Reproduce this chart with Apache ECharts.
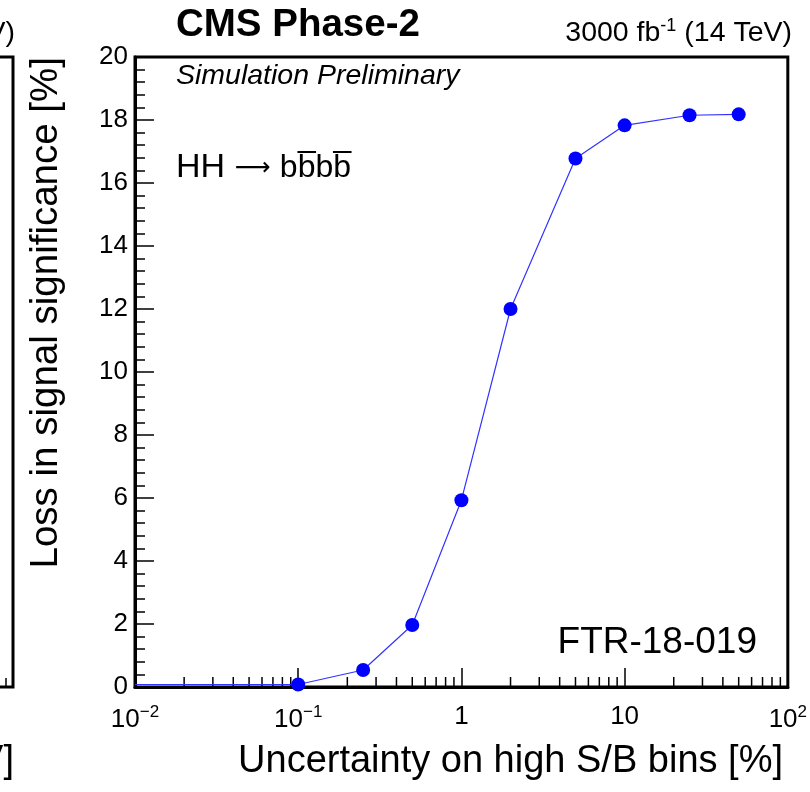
<!DOCTYPE html>
<html>
<head>
<meta charset="utf-8">
<script src="https://cdn.jsdelivr.net/npm/echarts@6/dist/echarts.min.js"></script>
<style>html,body{margin:0;padding:0;background:#fff}#c{width:810px;height:792px}</style>
</head>
<body>
<div id="c"></div>
<script>
const uncertainty = [0.01, 0.1, 0.25, 0.5, 1, 2, 5, 10, 25, 50];
const loss = [0.08, 0.08, 0.54, 1.97, 5.93, 12.0, 16.78, 17.83, 18.15, 18.18];
const xTickValues = [0.01, 0.1, 1, 10, 100];
const xTickLabels = ['10{s|\u22122}', '10{s|\u22121}', '1', '10', '10{s|2}'];
const xMinorTicks = [0.02,0.03,0.04,0.05,0.06,0.07,0.08,0.09,0.2,0.3,0.4,0.5,0.6,0.7,0.8,0.9,2,3,4,5,6,7,8,9,20,30,40,50,60,70,80,90];
const yMin = 0, yMax = 20, yInterval = 2;

const FONT = '"Liberation Sans", Arial, Helvetica, sans-serif';
const chart = echarts.init(document.getElementById('c'), null, {renderer: 'canvas'});

const lineData = uncertainty.map((x, i) => i === 0 ? {value: [x, loss[i]], symbol: 'none'} : [x, loss[i]]);

chart.setOption({
  animation: false,
  backgroundColor: '#fff',
  grid: {left: 135, right: 17, top: 57, bottom: 105, show: true, borderColor: '#000', borderWidth: 3, backgroundColor: 'transparent'},
  xAxis: {
    type: 'log', logBase: 10, min: 0.01, max: 100, splitNumber: 4,
    axisLine: {show: true, lineStyle: {color: '#000', width: 3}},
    axisTick: {show: true, inside: true, length: 19, lineStyle: {color: '#000', width: 1.5}},
    minorTick: {show: false},
    splitLine: {show: false},
    axisLabel: {
      margin: 17, color: '#000', fontFamily: FONT, fontSize: 26,
      formatter: function (v) {
        const i = xTickValues.findIndex(t => Math.abs(Math.log10(t) - Math.log10(v)) < 1e-6);
        return i >= 0 ? xTickLabels[i] : '';
      },
      rich: {s: {fontSize: 17, fontFamily: FONT, color: '#000', verticalAlign: 'top', padding: [0, 0, 14, 0]}}
    }
  },
  yAxis: {
    type: 'value', min: yMin, max: yMax, interval: yInterval,
    axisLine: {show: true, lineStyle: {color: '#000', width: 3}},
    axisTick: {show: true, inside: true, length: 19, lineStyle: {color: '#000', width: 1.5}},
    minorTick: {show: true, splitNumber: 5, length: 10, lineStyle: {color: '#000', width: 1.5}},
    splitLine: {show: false},
    axisLabel: {margin: 7, color: '#000', fontFamily: FONT, fontSize: 26}
  },
  series: [
    {
      type: 'custom', silent: true, clip: false, z: 3,
      data: xMinorTicks.map(v => [v, yMin]),
      renderItem: function (params, api) {
        const p = api.coord([api.value(0), api.value(1)]);
        return {type: 'line', shape: {x1: p[0], y1: p[1], x2: p[0], y2: p[1] - 10}, style: {stroke: '#000', lineWidth: 1.5}};
      }
    },
    {
      type: 'line', data: lineData, symbol: 'circle', symbolSize: 14,
      lineStyle: {color: '#3333ff', width: 1.2},
      itemStyle: {color: '#0000ff'}, z: 5
    }
  ],
  graphic: [
    {type: 'text', x: 176, y: 25, style: {text: 'CMS Phase-2', verticalAlign: 'middle', font: 'bold 38.5px ' + FONT, fill: '#000'}},
    {type: 'text', x: 792, y: 33, style: {text: '3000 fb{s|-1} (14 TeV)', align: 'right', verticalAlign: 'middle', font: '28.5px ' + FONT, fill: '#000', rich: {s: {font: '18px ' + FONT, fill: '#000', verticalAlign: 'top', padding: [0, 0, 14, 0]}}}},
    {type: 'text', x: 176, y: 76, style: {text: 'Simulation Preliminary', verticalAlign: 'middle', font: 'italic 28.5px ' + FONT, fill: '#000'}},
    {type: 'text', x: 176, y: 168, style: {text: 'HH {a|\u27F6} {b|bb\u0305bb\u0305}', verticalAlign: 'middle', font: '34px ' + FONT, fill: '#000', rich: {a: {font: '25px "DejaVu Sans", ' + FONT, fill: '#000'}, b: {font: '32px ' + FONT, fill: '#000'}}}},
    {type: 'text', x: 757, y: 643, style: {text: 'FTR-18-019', align: 'right', verticalAlign: 'middle', font: '37px ' + FONT, fill: '#000'}},
    {type: 'text', x: 783, y: 762, style: {text: 'Uncertainty on high S/B bins [%]', align: 'right', verticalAlign: 'middle', font: '38px ' + FONT, fill: '#000'}},
    {type: 'text', x: 46, y: 57, rotation: Math.PI / 2, style: {text: 'Loss in signal significance [%]', align: 'right', verticalAlign: 'middle', font: '38.5px ' + FONT, fill: '#000'}},
    {type: 'text', x: 15, y: 33, style: {text: '(14 TeV)', align: 'right', verticalAlign: 'middle', font: '28.5px ' + FONT, fill: '#000'}},
    {type: 'text', x: 14, y: 762, style: {text: '[GeV]', align: 'right', verticalAlign: 'middle', font: '38px ' + FONT, fill: '#000'}},
    {type: 'polyline', shape: {points: [[0, 57], [13, 57], [13, 687], [0, 687]]}, style: {stroke: '#000', lineWidth: 3, fill: null}},
    {type: 'line', shape: {x1: 6, y1: 687, x2: 6, y2: 678}, style: {stroke: '#000', lineWidth: 1.5}}
  ]
});
</script>
</body>
</html>
